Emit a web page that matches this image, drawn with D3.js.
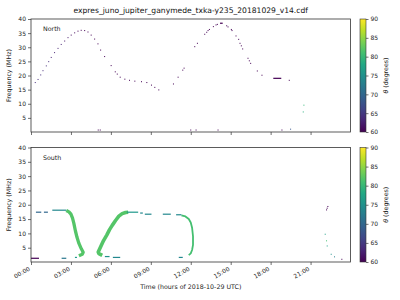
<!DOCTYPE html>
<html>
<head>
<meta charset="utf-8">
<script src="https://cdn.jsdelivr.net/npm/d3@7"></script>
<style>
  body { margin: 0; background: #fff; }
  text { font-family: "DejaVu Sans", sans-serif; }
</style>
</head>
<body>
<div id="chart"></div>
<script>
const title = "expres_juno_jupiter_ganymede_txka-y235_20181029_v14.cdf";
const yTicks = [5, 10, 15, 20, 25, 30, 35, 40];
const xTickHours = [0, 3, 6, 9, 12, 15, 18, 21];
const thetaTicks = [60, 65, 70, 75, 80, 85, 90];

// north: single detections [hour, MHz, theta]
const northDots = [
    [0.32, 17.5, 64], [0.53, 18.6, 64], [0.73, 20.2, 64], [0.9, 21.7, 64], [1.15, 23.4, 64],
    [1.33, 24.9, 64], [1.52, 26.4, 63], [1.77, 28.1, 63], [2.03, 29.6, 63], [2.27, 31.0, 63],
    [2.53, 32.2, 62], [2.78, 33.4, 62], [3.02, 34.3, 61], [3.28, 35.1, 61], [3.53, 35.7, 60],
    [3.77, 36.0, 60], [4.03, 35.9, 60], [4.28, 35.4, 60], [4.52, 34.3, 60], [4.78, 32.9, 60],
    [5.03, 31.2, 60], [5.23, 29.0, 60], [5.53, 26.7, 60], [6.02, 23.5, 60], [6.33, 21.3, 60],
    [6.48, 20.5, 60], [6.7, 19.4, 60], [7.05, 18.7, 60], [7.4, 18.3, 60], [7.8, 18.0, 60],
    [8.3, 17.8, 60], [8.7, 17.5, 60], [9.05, 16.6, 60], [9.3, 15.8, 60], [9.6, 14.9, 60],
    [10.7, 17.0, 60], [11.05, 19.4, 60], [11.4, 21.9, 60], [11.5, 22.6, 60], [12.3, 30.2, 60],
    [12.5, 31.4, 60], [13.05, 34.6, 60], [13.2, 35.3, 60], [13.3, 35.9, 60], [13.4, 36.3, 60],
    [13.7, 37.3, 60], [13.9, 37.9, 60], [14.0, 38.1, 60], [14.7, 37.6, 60], [14.8, 37.2, 60],
    [15.05, 36.3, 60], [15.1, 35.9, 60], [15.4, 34.0, 60], [15.6, 32.8, 60], [15.7, 31.4, 60],
    [15.8, 30.5, 60], [15.9, 29.4, 60], [16.3, 26.1, 60], [16.4, 25.2, 60], [16.5, 24.3, 60],
    [17.0, 21.6, 60], [17.35, 20.1, 60], [19.4, 18.3, 60],
    [20.5, 9.5, 80], [20.45, 7.1, 79],
    [5.05, 0.7, 60], [5.2, 0.7, 60], [12.0, 0.7, 60], [12.4, 0.7, 60], [14.05, 0.7, 60],
    [18.85, 0.7, 60], [19.5, 1.0, 68]
];
// north: runs [hour start, hour end, MHz, theta]
const northDashes = [
    [14.2, 14.4, 38.5, 60], [18.2, 18.8, 19.0, 60]
];

// south: runs [hour start, hour end, MHz, theta]
const southDashes = [
    [0.0, 0.6, 1.3, 60], [0.37, 0.77, 17.4, 70], [0.97, 1.27, 17.4, 70], [1.6, 2.65, 18.1, 74],
    [2.3, 2.65, 1.3, 72], [3.3, 3.45, 1.6, 76], [5.55, 5.9, 1.9, 75], [6.15, 6.7, 1.6, 74],
    [7.2, 8.05, 17.4, 76], [8.2, 8.4, 17.1, 74], [8.55, 9.05, 16.7, 74], [9.9, 10.5, 16.7, 74],
    [10.9, 11.3, 16.5, 74], [11.1, 11.4, 1.6, 74]
];
const southDots = [
    [22.3, 19.4, 60], [22.25, 18.8, 60], [22.2, 18.2, 60], [22.1, 9.7, 77], [22.2, 7.4, 81],
    [22.25, 5.6, 77], [22.55, 2.7, 75], [22.8, 1.8, 73], [23.35, 0.95, 60]
];
// south: dense drifting emission traced as bands [hour, MHz]
const southBand1 = [
    [2.65, 18.0], [2.85, 17.5], [3.0, 16.7], [3.12, 15.3], [3.22, 13.5], [3.33, 11.0],
    [3.45, 8.7], [3.6, 6.5], [3.78, 4.6], [3.92, 3.4], [3.85, 2.7], [3.6, 2.2]
];
const southBand2 = [
    [5.35, 2.3], [5.1, 2.9], [5.05, 3.5], [5.25, 5.5], [5.45, 7.5], [5.7, 9.5], [5.9, 11.3],
    [6.1, 12.8], [6.35, 14.5], [6.6, 16.0], [6.85, 16.9], [7.1, 17.3], [7.3, 17.4]
];
const southBand3 = [
    [11.3, 16.3], [11.6, 15.9], [11.85, 15.0], [12.0, 13.8], [12.1, 12.0], [12.17, 9.0],
    [12.17, 6.0], [12.1, 4.2], [12.0, 3.0], [11.85, 2.4]
];
const bandTheta = [82, 82, 81];
const bandWidth = [3.3, 3.6, 1.8];

const W = 400, H = 300;
const left = 31, right = 350.5;
const panels = [
    { name: "North", top: 19, bottom: 132, dots: northDots, dashes: northDashes, bands: [] },
    { name: "South", top: 147.5, bottom: 262, dots: southDots, dashes: southDashes,
      bands: [southBand1, southBand2, southBand3] }
];

const color = d3.scaleSequential(d3.interpolateViridis).domain([60, 90]);
const x = d3.scaleLinear().domain([0, 24]).range([left, right]);

const svg = d3.select("#chart").append("svg")
    .attr("width", W).attr("height", H);

const grad = svg.append("defs").append("linearGradient")
    .attr("id", "viridis").attr("x1", 0).attr("y1", 1).attr("x2", 0).attr("y2", 0);
d3.range(0, 1.001, 0.1).forEach(s => {
    grad.append("stop").attr("offset", s).attr("stop-color", d3.interpolateViridis(s));
});

svg.append("text")
    .attr("x", (left + right) / 2).attr("y", 13)
    .attr("text-anchor", "middle").attr("font-size", 7.6).attr("fill", "#111")
    .text(title);

panels.forEach((p, i) => {
    const y = d3.scaleLinear().domain([0, 40]).range([p.bottom, p.top]);
    const g = svg.append("g");

    p.bands.forEach((b, k) => {
        g.append("path")
            .datum(b)
            .attr("fill", "none")
            .attr("stroke", color(bandTheta[k]))
            .attr("stroke-width", bandWidth[k])
            .attr("stroke-linejoin", "round")
            .attr("d", d3.line().x(d => x(d[0])).y(d => y(d[1])));
    });

    g.selectAll(".dash").data(p.dashes).enter().append("rect")
        .attr("x", d => x(d[0]))
        .attr("y", d => y(d[2]) - 0.6)
        .attr("width", d => x(d[1]) - x(d[0]))
        .attr("height", 1.2)
        .attr("fill", d => color(d[3]));

    g.selectAll(".dot").data(p.dots).enter().append("rect")
        .attr("x", d => x(d[0]) - 0.5)
        .attr("y", d => y(d[1]) - 0.5)
        .attr("width", 1).attr("height", 1)
        .attr("fill", d => color(d[2]));

    // frame
    g.append("rect")
        .attr("x", left).attr("y", p.top)
        .attr("width", right - left).attr("height", p.bottom - p.top)
        .attr("fill", "none").attr("stroke", "#333").attr("stroke-width", 0.8);

    const ya = g.append("g")
        .attr("transform", `translate(${left},0)`)
        .call(d3.axisLeft(y).tickValues(yTicks).tickSize(3).tickPadding(2));
    ya.select(".domain").remove();
    ya.selectAll("line").attr("stroke", "#333").attr("stroke-width", 0.7);
    ya.selectAll("text").attr("font-size", 6).attr("fill", "#222").attr("font-family", "DejaVu Sans");

    const xa = g.append("g")
        .attr("transform", `translate(0,${p.bottom})`)
        .call(d3.axisBottom(x).tickValues(xTickHours).tickSize(3)
            .tickFormat(h => (h < 10 ? "0" : "") + h + ":00"));
    xa.select(".domain").remove();
    xa.selectAll("line").attr("stroke", "#333").attr("stroke-width", 0.7);
    if (i === 0) {
        xa.selectAll("text").remove();
    } else {
        xa.selectAll("text")
            .attr("font-size", 6).attr("fill", "#222").attr("font-family", "DejaVu Sans")
            .attr("text-anchor", "end")
            .attr("dy", null).attr("y", 0)
            .attr("transform", "translate(-1,8) rotate(-30)");
    }

    g.append("text")
        .attr("transform", `translate(11,${(p.top + p.bottom) / 2}) rotate(-90)`)
        .attr("text-anchor", "middle").attr("font-size", 6.3).attr("fill", "#222")
        .text("Frequency (MHz)");

    g.append("text")
        .attr("x", 43).attr("y", p.top + 12)
        .attr("font-size", 6.3).attr("fill", "#222")
        .text(p.name);

    // colorbar
    const cy = d3.scaleLinear().domain([60, 90]).range([p.bottom, p.top]);
    g.append("rect")
        .attr("x", 360).attr("y", p.top)
        .attr("width", 6).attr("height", p.bottom - p.top)
        .attr("fill", "url(#viridis)").attr("stroke", "#333").attr("stroke-width", 0.6);
    const ca = g.append("g")
        .attr("transform", "translate(366,0)")
        .call(d3.axisRight(cy).tickValues(thetaTicks).tickSize(2.5).tickPadding(2));
    ca.select(".domain").remove();
    ca.selectAll("line").attr("stroke", "#333").attr("stroke-width", 0.7);
    ca.selectAll("text").attr("font-size", 6).attr("fill", "#222").attr("font-family", "DejaVu Sans");

    g.append("text")
        .attr("transform", `translate(388,${(p.top + p.bottom) / 2}) rotate(-90)`)
        .attr("text-anchor", "middle").attr("font-size", 6.3).attr("fill", "#222")
        .html('<tspan font-style="italic">θ</tspan> (degrees)');
});

svg.append("text")
    .attr("x", (left + right) / 2).attr("y", 289)
    .attr("text-anchor", "middle").attr("font-size", 6.3).attr("fill", "#222")
    .text("Time (hours of 2018-10-29 UTC)");
</script>
</body>
</html>
